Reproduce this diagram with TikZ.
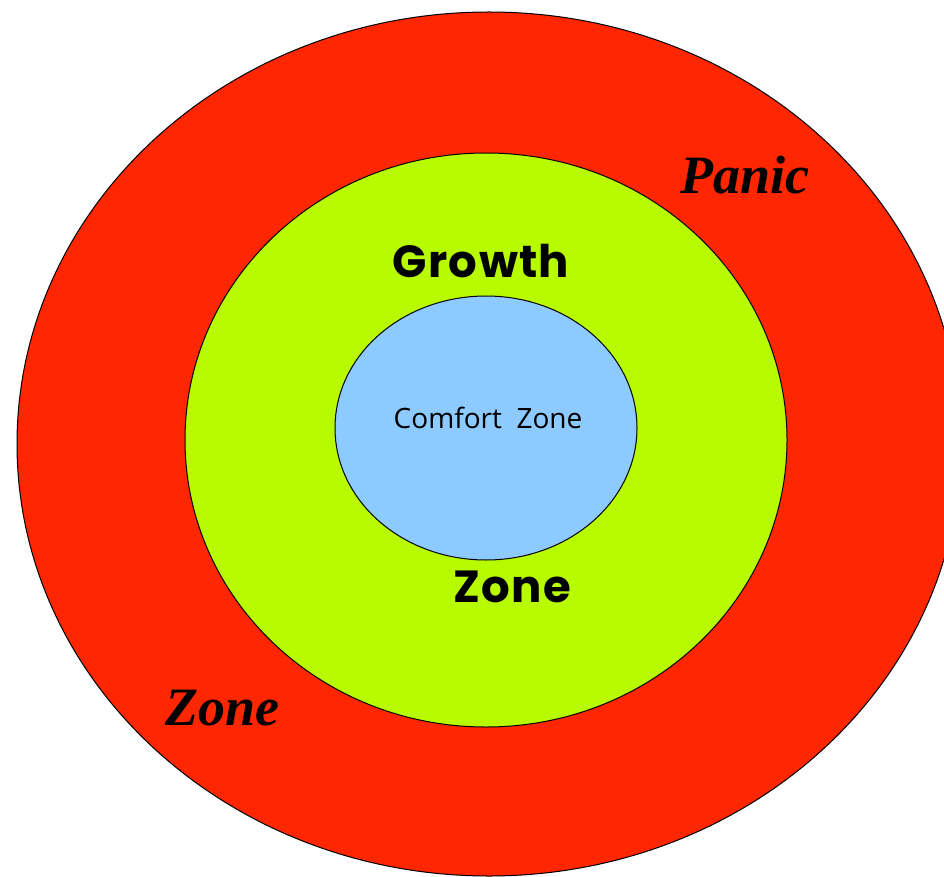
\documentclass[tikz,border=0pt]{standalone}
\usepackage{fontspec}
\newfontfamily\comicfont{Open Sans}
\newfontfamily\gothfont{Liberation Serif}
\newfontfamily\heavyfont{Poppins}[LetterSpace=3]
\definecolor{panicred}{HTML}{FF2600}
\definecolor{growthgreen}{HTML}{B8FB00}
\definecolor{comfortblue}{HTML}{8DCAFF}
\begin{document}
\begin{tikzpicture}[x=1pt, y=-1pt, line join=round]
	\tikzset{zone/.style={draw=black, line width=1pt},
		gothword/.style={font=\fontsize{54}{54}\selectfont\gothfont\bfseries\itshape},
		boldword/.style={font=\fontsize{45}{45}\selectfont\heavyfont\bfseries}}
	\useasboundingbox (0,0) rectangle (944,877);
	\clip (0,0) rectangle (944,877);
	% rings, outside in
	\filldraw[zone, fill=panicred] (489,444) ellipse [x radius=472pt, y radius=432pt];
	\filldraw[zone, fill=growthgreen] (486,440) ellipse [x radius=301pt, y radius=287pt];
	\filldraw[zone, fill=comfortblue] (486,428) ellipse [x radius=151pt, y radius=132pt];
	% labels
	\node[gothword] (panic) at (745,175) {Panic};
	\node[gothword] (panicz) at (222,708) {Zone};
	\node[boldword] (growth) at (481,261) {Growth};
	\node[boldword] (growthz) at (512,587) {Zone};
	\node[font=\fontsize{28}{28}\selectfont\comicfont] (comfort) at (488,418) {Comfort\ \ Zone};
\end{tikzpicture}
\end{document}
